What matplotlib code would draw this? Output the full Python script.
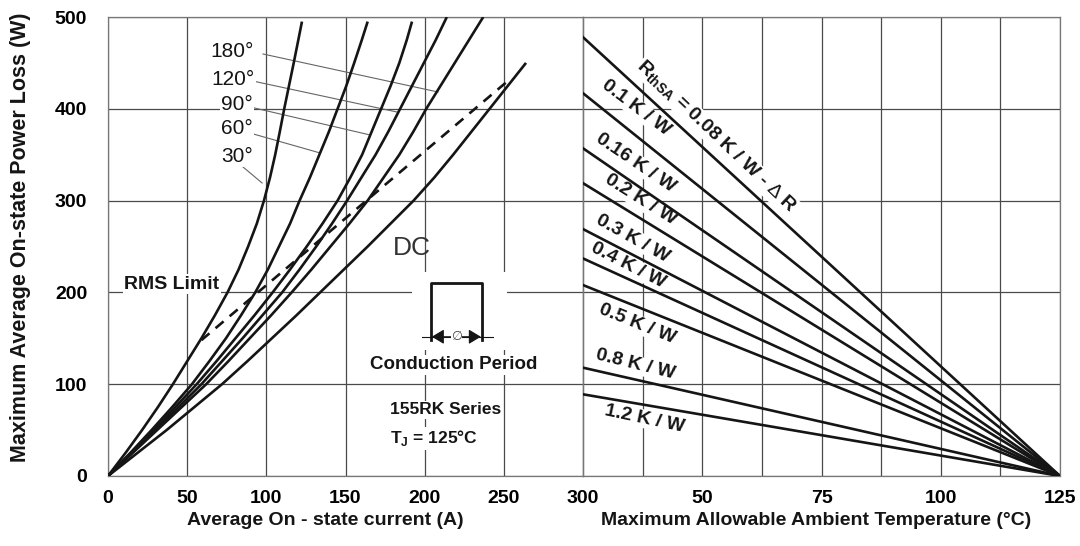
import numpy as np
import matplotlib.pyplot as plt
from matplotlib.patches import Rectangle

plt.rcParams['font.family'] = ['Liberation Sans', 'DejaVu Sans']
plt.rcParams['mathtext.fontset'] = 'custom'
plt.rcParams['mathtext.rm'] = 'Liberation Sans'

## data ##
# left panel: power loss (W) and average on-state current (A) for each conduction angle
loss_steps = [0, 25, 50, 75, 100, 125, 150, 175, 200, 225, 250, 275, 300,
              325, 350, 375, 400, 425, 450, 475, 500]
curr_30 = [0, 11, 21.5, 31.5, 41, 50, 59, 67.5, 75.5, 82.5, 88.5, 94, 98.5,
           102.3, 105.6, 108.5, 111.3, 114.3, 117.3, 120.2, 122.5]
curr_60 = [0, 14, 27.5, 40.5, 53, 64, 74.5, 84, 93, 101, 108, 115, 121,
           127.5, 133.5, 139.5, 145, 150.5, 155.5, 160.3, 164]
curr_90 = [0, 14.5, 29, 42.5, 56, 68.5, 80.5, 92.5, 104, 115, 125.5, 135.5, 145,
           153, 160.5, 166.5, 172.5, 178.5, 184, 188.7, 192]
curr_120 = [0, 15, 30, 44.5, 59, 72, 85, 97.5, 110, 121, 131.5, 141.5, 151,
            160, 169, 177, 184.5, 192, 199.5, 207, 214]
curr_180 = [0, 15.5, 31, 46.5, 62, 76, 89.5, 103, 116, 128.5, 140.5, 152.5, 164,
            174, 184, 192.8, 201, 210, 219, 228, 237]
curr_dc = [0, 18.5, 37, 54.5, 72, 88, 103.5, 119, 134, 149, 164, 178.5, 193,
           206, 218, 229.5, 241, 252.5, 264]
rms_curr = [59, 253]
rms_loss = [148, 431]
# the 30..180 deg curves stop just under 500 W
top_loss = [495, 495, 495, 500, 500]

# right panel: ambient temperature (C) vs power loss (W), one line per heatsink
t_amb = [25, 125]
rth_values = ['0.08', '0.1', '0.16', '0.2', '0.3', '0.4', '0.5', '0.8', '1.2']
loss_at_25 = [478, 417, 357, 319, 269, 237, 208, 118, 89]

## figure ##
fig = plt.figure(figsize=(10.8, 5.46), dpi=100)
W, H = 1080.0, 546.0
x0, x1, x2 = 108, 583, 1060
ytop, ybot = 17, 476
ax1 = fig.add_axes([x0 / W, 1 - ybot / H, (x1 - x0) / W, (ybot - ytop) / H])
ax2 = fig.add_axes([x1 / W, 1 - ybot / H, (x2 - x1) / W, (ybot - ytop) / H])

ink = '#151515'
gridc = '#4a4a4a'
for ax in (ax1, ax2):
    ax.set_ylim(0, 500)
    ax.set_axisbelow(True)
    ax.grid(True, color=gridc, lw=0.9)
    for s in ax.spines.values():
        s.set_color('#777777')
        s.set_linewidth(0.9)
    ax.tick_params(length=0, labelsize=14)

ax1.set_xlim(0, 300)
ax1.set_xticks(range(0, 301, 50))
ax1.set_yticks(range(0, 501, 100))
ax1.tick_params(axis='x', pad=10)
ax1.tick_params(axis='y', pad=15)

ax2.set_xlim(25, 125)
ax2.set_xticks(np.arange(25, 125.1, 12.5))
ax2.set_xticklabels(['', '', '50', '', '75', '', '100', '', '125'])
ax2.set_yticks(range(0, 501, 100))
ax2.set_yticklabels([])
ax2.tick_params(axis='x', pad=10)
for lab in ax1.get_xticklabels() + ax1.get_yticklabels() + ax2.get_xticklabels():
    lab.set_fontweight('bold')

lab_font = dict(fontsize=14, fontweight='bold', color=ink, va='center')
ax1.set_ylabel('Maximum Average On-state Power Loss (W)', fontsize=15.5,
               fontweight='bold', color=ink, va='center')
ax1.yaxis.set_label_coords(-0.185, 0.52)
ax1.set_xlabel('Average On - state current (A)', **lab_font)
ax1.xaxis.set_label_coords(0.457, -0.098)
ax2.set_xlabel('Maximum Allowable Ambient Temperature (\u00b0C)', **lab_font)
ax2.xaxis.set_label_coords(0.488, -0.098)

## left panel curves ##
for cx, top in zip([curr_30, curr_60, curr_90, curr_120, curr_180], top_loss):
    cy = loss_steps[:-1] + [top]
    ax1.plot(cx, cy, color=ink, lw=1.9, zorder=3, solid_capstyle='butt')
ax1.plot(curr_dc, loss_steps[:len(curr_dc)], color=ink, lw=1.9, zorder=3,
         solid_capstyle='butt')
ax1.plot(rms_curr, rms_loss, color=ink, lw=1.9, ls=(0, (4, 3)), zorder=3)

# angle labels with leader lines
white = dict(facecolor='white', edgecolor='none', pad=1)
angle_text = ['180', '120', '90', '60', '30']
angle_pos = [(78.5, 462), (79, 432), (81.5, 405), (81.5, 378), (81.5, 348)]
leader_from = [(97.9, 459.7), (88.4, 431.4), (89.7, 402), (89.7, 373.6), (85.3, 336.6)]
leader_to = [(208.4, 418.3), (182.5, 396.5), (165.5, 371.5), (133.9, 351.9), (97.3, 319.2)]
for t, p, a, b in zip(angle_text, angle_pos, leader_from, leader_to):
    ax1.plot([a[0], b[0]], [a[1], b[1]], color='#666666', lw=0.8, zorder=2.6)
    ax1.text(p[0], p[1], t + '\u00b0', fontsize=15, ha='center', va='center',
             color=ink, bbox=white, zorder=2.7)

ax1.text(40.2, 209, 'RMS Limit', fontsize=14, fontweight='bold', ha='center', va='center',
         color=ink, bbox=white, zorder=2.5)
ax1.text(191.8, 248, 'DC', fontsize=19, ha='center', va='center', color='#333333', zorder=2.5)

# conduction period symbol
ax1.add_patch(Rectangle((192, 137), 60, 85, facecolor='white', edgecolor='none', zorder=1))
ax1.plot([204, 204, 236, 236], [148, 210, 210, 148], color=ink, lw=2.0, zorder=3)
ax1.plot([198, 243], [151.7, 151.7], color=ink, lw=0.8, zorder=3)
ax1.annotate('', xy=(204.5, 151.7), xytext=(235.5, 151.7),
             arrowprops=dict(arrowstyle='<|-|>,head_length=0.75,head_width=0.45',
                             color=ink, lw=0.8, shrinkA=0, shrinkB=0), zorder=3)
ax1.text(220, 151.7, '\u2205', fontsize=9, ha='center', va='center', color='#444444',
         family='DejaVu Sans', bbox=dict(facecolor='white', edgecolor='none', pad=0.2), zorder=3.5)
ax1.text(218.5, 121, 'Conduction Period', fontsize=13.5, fontweight='bold', ha='center',
         va='center', color=ink, bbox=white, zorder=2.5)
ax1.text(178, 72, '155RK Series', fontsize=12.5, fontweight='bold', ha='left', va='center',
         color=ink, bbox=white, zorder=2.5)
ax1.text(178, 41, 'T$_{\\mathregular{J}}$ = 125\u00b0C', fontsize=12.5,
         fontweight='bold', ha='left', va='center', color=ink, bbox=white, zorder=2.5)

## right panel lines ##
for p0 in loss_at_25:
    ax2.plot(t_amb, [p0, 0], color=ink, lw=1.9, zorder=3)

rth_pos = [(52.9, 369.3), (36.1, 400.9), (36.1, 341), (37.0, 300.7), (35.5, 259),
           (34.4, 229.8), (36.3, 165.6), (35.9, 121), (38.0, 62)]
rth_rot = [-43.5, -37, -34, -32, -29, -27, -22, -14, -12]
for i, (v, p, r) in enumerate(zip(rth_values, rth_pos, rth_rot)):
    if i == 0:
        s = 'R$_{\\mathregular{thSA}}$ = ' + v + ' K / W - $\\Delta$ R'
    else:
        s = v + ' K / W'
    ax2.text(p[0], p[1], s, fontsize=14, fontweight='bold', rotation=r,
             rotation_mode='anchor', ha='center', va='center', color=ink,
             bbox=dict(facecolor='white', edgecolor='none', pad=0.5), zorder=2.5)

fig.savefig('out.png', dpi=100)
